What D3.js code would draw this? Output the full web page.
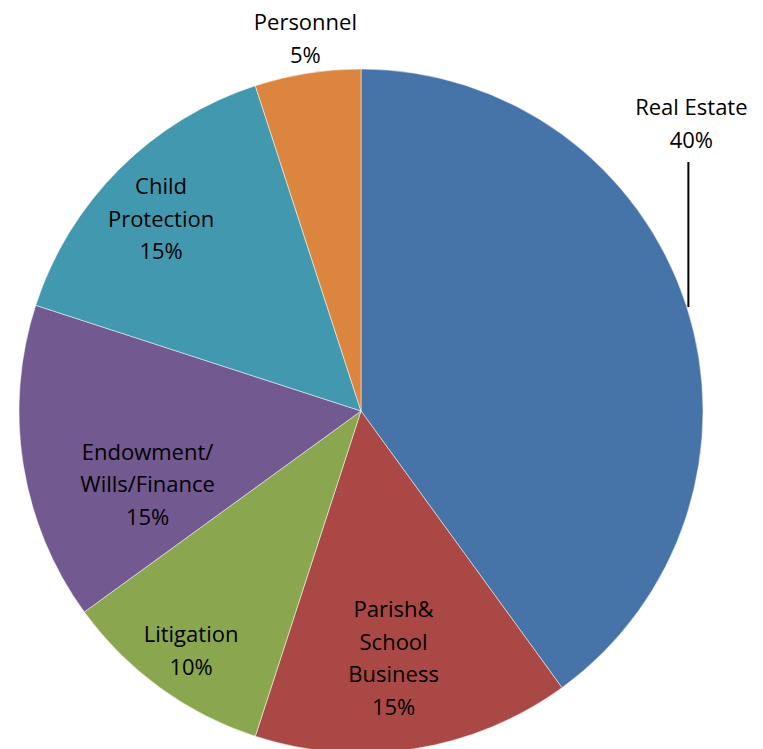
<!DOCTYPE html>
<html>
<head>
<meta charset="utf-8">
<script src="https://cdn.jsdelivr.net/npm/d3@7"></script>
<style>
  html, body { margin: 0; padding: 0; background: #fff; }
  svg { display: block; }
  text { font-family: "Open Sans", Lato, sans-serif; }
</style>
</head>
<body>
<svg id="chart" width="763" height="749"></svg>
<script>
// Data
const categories = ["Real Estate", "Parish& School Business", "Litigation", "Endowment/ Wills/Finance", "Child Protection", "Personnel"];
const labelLines = [["Real Estate"], ["Parish&", "School", "Business"], ["Litigation"], ["Endowment/", "Wills/Finance"], ["Child", "Protection"], ["Personnel"]];
const values = [40, 15, 10, 15, 15, 5];
const colors = ["#4674A8", "#AA4845", "#8AA64F", "#72598F", "#4299AF", "#DB853E"];

const W = 763, H = 749;
const cx = 361, cy = 411, R = 342;

const svg = d3.select("#chart");
const g = svg.append("g").attr("transform", `translate(${cx},${cy})`);

const pie = d3.pie().sort(null).value(d => d)(values);
const arc = d3.arc().innerRadius(0).outerRadius(R);

g.selectAll("path.slice").data(pie).enter().append("path")
  .attr("class", "slice")
  .attr("d", arc)
  .attr("fill", (d, i) => colors[i])
  .attr("stroke", "#ffffff")
  .attr("stroke-width", 0.5);

// label placement: radius factor and angle offset (degrees) per slice
const labelR = [1.28, 0.73, 0.86, 0.66, 0.81, 1.10];
const labelDA = [-23, 1.5, -0.7, -10, -1.2, 0.5];
const lineH = 32.5;
const fs = 22;

pie.forEach((d, i) => {
  const a = (d.startAngle + d.endAngle) / 2 + labelDA[i] * Math.PI / 180;
  const r = R * labelR[i];
  const x = r * Math.sin(a), y = -r * Math.cos(a);
  const lines = labelLines[i].concat([values[i] + "%"]);
  const n = lines.length;
  const t = g.append("text")
    .attr("text-anchor", "middle")
    .attr("font-size", fs)
    .attr("fill", "#000");
  lines.forEach((l, k) => {
    t.append("tspan")
      .attr("x", x)
      .attr("y", y + (k - (n - 1) / 2) * lineH)
      .attr("dy", "0.35em")
      .text(l);
  });
  if (i === 0) {
    // leader line from label down to near the arc edge
    const lx = x - 3;
    const yBottom = -Math.sqrt(R * R - lx * lx) - 5;
    g.append("line")
      .attr("x1", lx).attr("x2", lx)
      .attr("y1", y + (n - 1) / 2 * lineH + 22)
      .attr("y2", yBottom)
      .attr("stroke", "#000")
      .attr("stroke-width", 2);
  }
});
</script>
</body>
</html>
